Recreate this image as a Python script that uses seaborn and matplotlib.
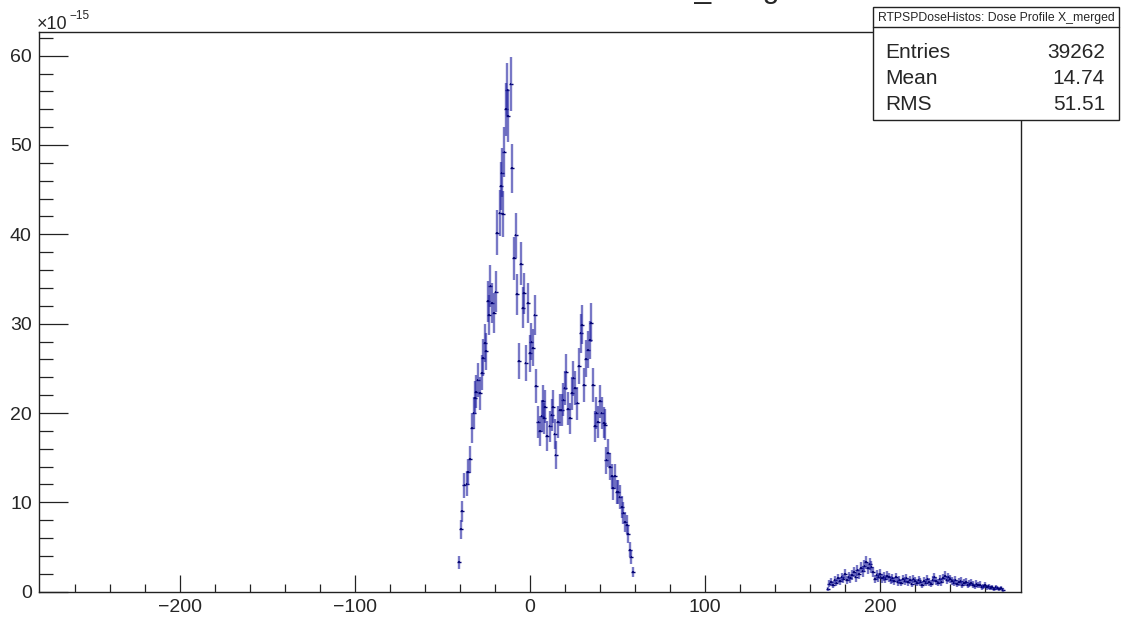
import numpy as np
import pandas as pd
import matplotlib
matplotlib.use("Agg")
import matplotlib.pyplot as plt
from matplotlib.patches import Rectangle
from matplotlib.lines import Line2D
import seaborn as sns

# bin centres and contents (units of 1e-15)
x_main = [-40.6, -39.3, -38.8, -37.4, -36.2, -35.5, -34.3, -33.0, -32.1, -31.5,
          -30.7, -29.8, -28.6, -27.3, -26.7, -25.8, -25.0, -24.0, -23.3, -22.5,
          -21.6, -20.6, -19.6, -18.7, -17.3, -16.6, -16.2, -15.3, -14.5, -13.5,
          -12.8, -12.4, -11.0, -10.1, -9.2, -8.2, -7.3, -6.1, -5.0, -3.8,
          -3.3, -2.5, -1.1, 0.0, 0.8, 1.7, 2.7, 3.6, 4.8, 5.7,
          6.7, 7.4, 8.0, 8.6, 9.9, 11.3, 12.4, 13.2, 14.1, 14.7,
          16.0, 17.2, 18.1, 19.1, 19.8, 20.8, 21.9, 22.9, 23.9, 24.8,
          25.8, 27.1, 28.0, 29.0, 29.9, 30.9, 32.2, 33.2, 34.3, 34.9,
          36.1, 37.2, 38.0, 39.0, 40.0, 41.0, 42.2, 42.9, 43.7, 44.6,
          45.6, 46.8, 47.5, 48.7, 49.6, 50.5, 51.3, 52.5, 53.4, 54.4,
          55.3, 56.1, 57.1, 58.0, 59.0]
y_main = [3.3, 7.0, 9.0, 11.9, 12.1, 13.4, 14.8, 18.3, 20.0, 21.7,
          22.4, 23.7, 22.2, 24.5, 26.2, 27.8, 26.9, 32.5, 31.0, 34.2,
          32.3, 31.2, 33.6, 40.2, 42.4, 45.4, 46.9, 42.3, 49.2, 54.0,
          56.2, 53.3, 56.8, 47.4, 37.3, 39.9, 33.3, 25.8, 36.7, 31.8,
          33.4, 25.6, 32.3, 26.7, 28.0, 27.3, 31.0, 23.0, 19.0, 18.0,
          19.7, 21.3, 19.4, 20.7, 17.4, 18.5, 19.8, 20.7, 17.7, 15.3,
          19.0, 20.3, 20.3, 21.5, 22.8, 24.6, 20.5, 19.4, 22.2, 23.9,
          22.8, 21.1, 25.3, 28.9, 29.9, 23.1, 26.1, 27.1, 28.2, 30.1,
          23.1, 18.5, 20.0, 19.0, 21.3, 20.0, 18.9, 18.7, 14.7, 15.5,
          14.0, 12.9, 11.6, 12.9, 11.2, 11.2, 10.6, 9.5, 8.8, 7.8,
          7.5, 6.5, 4.7, 3.9, 2.2]

x_tail = list(range(170, 271))
y_tail = [0.3, 0.9, 1.1, 0.8, 1.3, 1.0, 1.5, 1.2, 1.6, 1.4,
          2.0, 1.3, 1.7, 1.5, 1.9, 2.2, 1.6, 2.4, 2.0, 2.7,
          2.3, 2.9, 3.3, 2.6, 3.1, 2.8, 2.2, 1.4, 1.9, 1.6,
          2.0, 1.5, 1.7, 1.4, 1.8, 1.6, 1.3, 1.5, 1.2, 1.6,
          1.1, 1.3, 1.0, 1.4, 1.2, 1.5, 1.1, 1.3, 0.9, 1.4,
          1.2, 1.0, 1.3, 1.1, 0.8, 1.2, 1.0, 1.4, 1.1, 0.9,
          1.3, 1.6, 1.2, 1.0, 1.4, 1.1, 1.5, 1.8, 1.3, 1.6,
          1.4, 1.2, 1.0, 1.3, 0.9, 1.1, 1.2, 0.8, 1.0, 1.1,
          0.7, 0.9, 1.0, 0.8, 0.6, 0.9, 0.7, 0.8, 0.5, 0.6,
          0.7, 0.5, 0.6, 0.4, 0.5, 0.3, 0.5, 0.4, 0.3, 0.4,
          0.2]

stat_names = ["Entries", "Mean", "RMS"]
stat_values = ["39262", "14.74", "51.51"]
hist_name = "RTPSPDoseHistos: Dose Profile X_merged"
hist_title = "Dose Profile X_merged"

df = pd.DataFrame({"x": x_main + x_tail, "dose": y_main + y_tail})
# statistical error grows like sqrt of content (scale)
df["err"] = 0.4 * np.sqrt(df["dose"])

sns.set_style("ticks")
plt.rcParams["font.family"] = ["Liberation Sans", "DejaVu Sans"]

fig = plt.figure(figsize=(11.23, 6.21), dpi=100)
ax = fig.add_axes([0.0345, 0.0472, 0.8747, 0.9013])

ax.errorbar(df["x"], df["dose"], yerr=df["err"], fmt="none",
            ecolor="#1f1fa0", elinewidth=1.7, alpha=0.6, capsize=0)
ax.errorbar(df["x"], df["dose"], xerr=0.45, fmt="none",
            ecolor="#00006e", elinewidth=1.2, capsize=0)
sns.scatterplot(data=df, x="x", y="dose", ax=ax, marker="_", s=8,
                color="#00006e", linewidth=1, legend=False)

ax.set_xlim(-280.5, 280.5)
ax.set_ylim(0, 62.65)
ax.set_xticks([-200, -100, 0, 100, 200])
ax.set_xticks(np.arange(-260, 261, 20), minor=True)
ax.set_yticks(np.arange(0, 61, 10))
ax.set_yticks(np.arange(0, 63, 2), minor=True)
ax.set_xlabel(""); ax.set_ylabel("")
ax.tick_params(axis="x", which="major", direction="in", length=12.2, width=0.9,
               labelsize=14, pad=5, color="#222222")
ax.tick_params(axis="x", which="minor", direction="in", length=5.8, width=0.9,
               color="#222222")
ax.tick_params(axis="y", which="major", direction="in", length=21, width=0.9,
               labelsize=14, pad=5, color="#222222")
ax.tick_params(axis="y", which="minor", direction="in", length=10, width=0.9,
               color="#222222")
for s in ax.spines.values():
    s.set_color("#222222"); s.set_linewidth(1)

# exponent label like ROOT
fig.text(37/1123, 1 - 29/621, "\u00d710", fontsize=13, va="baseline", ha="left")
fig.text(69/1123, 1 - 19/621, "\u221215", fontsize=8.5, va="baseline", ha="left")

# histogram title, mostly cut off at the top
fig.text(503/1123, 1 + 2.5/621, hist_title, fontsize=21.6, va="baseline", ha="left")

# stats box
bx0, bx1 = 873/1123, 1119/1123
by0, by1 = 1 - 120/621, 1 - 7/621
fig.patches.append(Rectangle((bx0, by0), bx1 - bx0, by1 - by0, transform=fig.transFigure,
                             facecolor="white", edgecolor="#222222", lw=1, zorder=5))
fig.lines.append(Line2D([bx0, bx1], [1 - 27/621] * 2, transform=fig.transFigure,
                        color="#222222", lw=1, zorder=6))
fig.text((bx0 + bx1) / 2, 1 - 17.5/621, hist_name, fontsize=8.8, ha="center",
         va="center", zorder=7)
for i, (nm, val) in enumerate(zip(stat_names, stat_values)):
    yy = 1 - (52 + 26*i)/621
    fig.text(885/1123, yy, nm, fontsize=15, ha="left", va="center", zorder=7)
    fig.text(1105/1123, yy, val, fontsize=15, ha="right", va="center", zorder=7)

fig.savefig("out.png", dpi=100)
